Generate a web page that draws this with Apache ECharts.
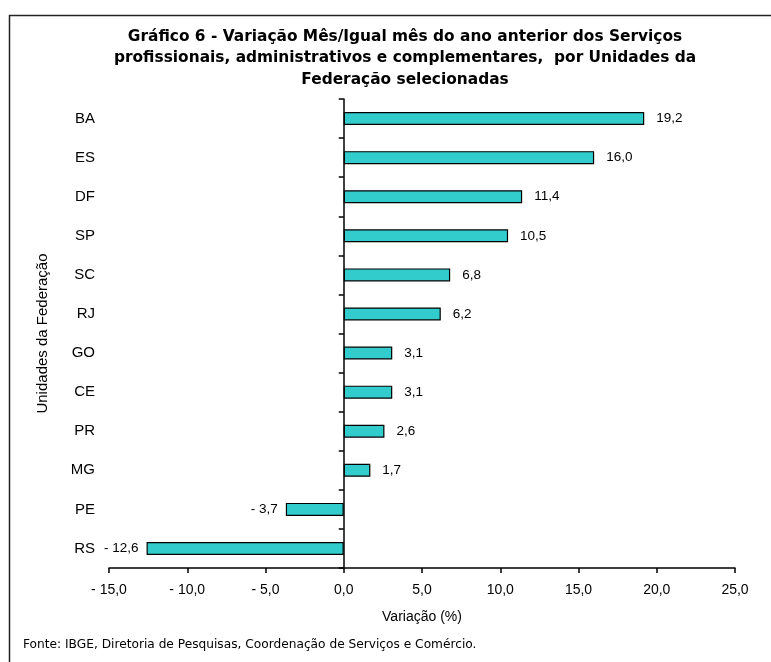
<!DOCTYPE html>
<html>
<head>
<meta charset="utf-8">
<script src="https://cdn.jsdelivr.net/npm/echarts@6/dist/echarts.min.js"></script>
<style>
html,body{margin:0;padding:0;background:#fff;}
#chart{width:771px;height:662px;}
</style>
</head>
<body>
<div id="chart"></div>
<script>
const categories = ['BA','ES','DF','SP','SC','RJ','GO','CE','PR','MG','PE','RS'];
const values = [19.2, 16.0, 11.4, 10.5, 6.8, 6.2, 3.1, 3.1, 2.6, 1.7, -3.7, -12.6];
const xTicks = { min: -15, max: 25, interval: 5 };
const titleText = 'Gráfico 6 - Variação Mês/Igual mês do ano anterior dos Serviços\nprofissionais, administrativos e complementares,  por Unidades da\nFederação selecionadas';
const sourceText = 'Fonte: IBGE, Diretoria de Pesquisas, Coordenação de Serviços e Comércio.';

function fmt(v){
  const s = Math.abs(v).toFixed(1).replace('.', ',');
  return v < 0 ? '- ' + s : s;
}

const chart = echarts.init(document.getElementById('chart'));
const barData = values.map(v => ({
  value: v,
  label: { position: v < 0 ? 'left' : 'right', distance: v < 0 ? 8 : 12 }
}));

chart.setOption({
  animation: false,
  backgroundColor: '#ffffff',
  title: {
    text: titleText,
    left: 400, top: 21, textAlign: 'center',
    textStyle: { fontFamily: 'DejaVu Sans', fontWeight: 'bold', fontSize: 15.4, lineHeight: 21.5, color: '#000' }
  },
  graphic: [
    { type: 'rect', left: 7, top: 13, shape: { width: 800, height: 700 },
      style: { fill: 'none', stroke: '#222', lineWidth: 1.5 } },
    { type: 'text', left: 23, top: 639,
      style: { text: sourceText, font: '12.2px "DejaVu Sans"', fill: '#000' } }
  ],
  grid: { left: 109, right: 36, top: 99, bottom: 94, containLabel: false },
  xAxis: {
    type: 'value', min: xTicks.min, max: xTicks.max, interval: xTicks.interval,
    name: 'Variação (%)', nameLocation: 'middle', nameGap: 42,
    nameTextStyle: { fontFamily: 'Liberation Sans', fontSize: 14, color: '#000' },
    axisLine: { show: true, lineStyle: { color: '#000', width: 1.5 } },
    axisTick: { show: true, length: 5, lineStyle: { color: '#000', width: 1.5 } },
    axisLabel: { formatter: fmt, margin: 15, fontFamily: 'Liberation Sans', fontSize: 14, color: '#000' },
    splitLine: { show: false }
  },
  yAxis: [
    {
      type: 'category', data: categories, inverse: true, position: 'left',
      name: 'Unidades da Federação', nameLocation: 'middle', nameGap: 59,
      nameTextStyle: { fontFamily: 'Liberation Sans', fontSize: 15, color: '#000' },
      axisLine: { show: false, onZero: false },
      axisTick: { show: false },
      axisLabel: { margin: 14, fontFamily: 'Liberation Sans', fontSize: 15, color: '#000' },
      splitLine: { show: false }
    },
    {
      type: 'category', data: categories, inverse: true, position: 'left',
      axisLine: { show: true, onZero: true, lineStyle: { color: '#000', width: 1.5 } },
      axisTick: { show: true, length: 5, lineStyle: { color: '#000', width: 1.5 } },
      axisLabel: { show: false },
      splitLine: { show: false }
    }
  ],
  series: [{
    type: 'bar', yAxisIndex: 0, data: barData, barWidth: 13,
    itemStyle: { color: '#33CCCC', borderColor: '#000', borderWidth: 1.2 },
    label: { show: true, formatter: p => fmt(p.value), fontFamily: 'Liberation Sans', fontSize: 13.5, color: '#000' }
  }]
});
</script>
</body>
</html>
